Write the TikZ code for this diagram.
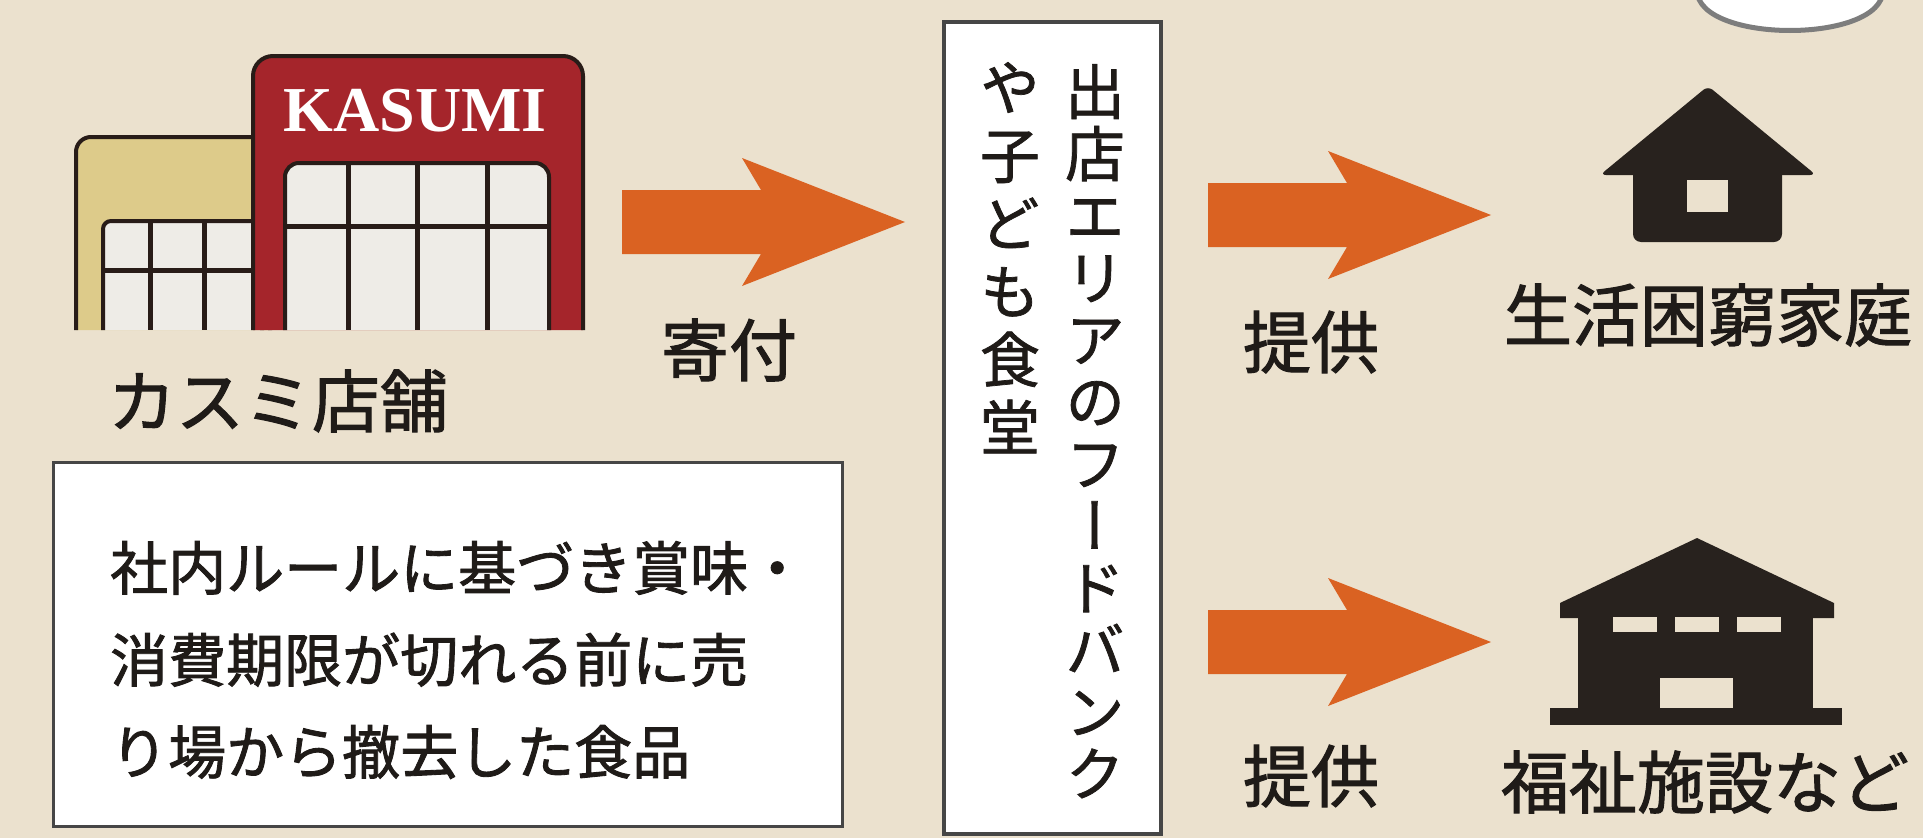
\documentclass[tikz,border=0pt]{standalone}
\usepackage{fontspec}
\usetikzlibrary{calc,positioning}
\newfontfamily\jpfont{Noto Sans CJK JP}[FakeBold=1.5]
\newfontfamily\tatefont{Noto Sans CJK JP}[RawFeature=+vert,FakeBold=1.2]
\newfontfamily\logofont{Liberation Serif}

\definecolor{paper}{RGB}{235,225,206}
\definecolor{inkblack}{RGB}{31,27,24}
\definecolor{outline}{RGB}{40,28,24}
\definecolor{kasumired}{RGB}{165,37,43}
\definecolor{tanwall}{RGB}{221,203,138}
\definecolor{glass}{RGB}{238,236,231}
\definecolor{arroworange}{RGB}{218,98,34}
\definecolor{houseblack}{RGB}{40,34,30}
\definecolor{boxgrey}{RGB}{70,70,70}
\definecolor{bubblegrey}{RGB}{125,125,125}

\tikzset{
  jplabel/.style={text=inkblack,inner sep=0,font=\jpfont\fontsize{68}{80}\selectfont},
  memo/.style={text=inkblack,inner sep=0,align=left,font=\jpfont\fontsize{58}{92}\selectfont},
  tate/.style={text=inkblack,inner sep=0,align=center,anchor=north,font=\tatefont\fontsize{60}{62}\selectfont},
  logo/.style={text=white,inner sep=0,font=\logofont\bfseries\fontsize{64}{70}\selectfont},
  wall/.style={draw=outline,line width=4},
  bar/.style={draw=outline,line width=5},
  pics/fatarrow/.style={code={
    \fill[arroworange] (0,-32) -- (139,-32) -- (120,-64) -- (283,0) -- (120,64) -- (139,32) -- (0,32) -- cycle;
  }}
}

\begin{document}
\begin{tikzpicture}[x=1pt,y=-1pt]
\useasboundingbox (0,0) rectangle (1923,838);
\fill[paper] (0,0) rectangle (1923,838);

\coordinate (A1) at (622,222);
\coordinate (A2) at (1208,215);
\coordinate (A3) at (1208,642);

% speech bubble cut by the top edge
\filldraw[fill=white,draw=bubblegrey,line width=5] (1697,-10) .. controls (1697,44) and (1883,44) .. (1883,-10) -- cycle;

% store: back building
\filldraw[wall,fill=tanwall,rounded corners=15] (76,330) -- (76,137) -- (270,137) -- (270,330);
\filldraw[wall,fill=glass,rounded corners=8] (103,330) -- (103,221) -- (262,221) -- (262,330);
\draw[bar] (103,270) -- (255,270);
\foreach \x in {150,204}
	\draw[bar] (\x,221) -- (\x,330);

% store: KASUMI building
\filldraw[wall,fill=kasumired,rounded corners=20] (253,330) -- (253,56) -- (583,56) -- (583,330);
\filldraw[wall,fill=glass,rounded corners=14] (285,330) -- (285,163) -- (549,163) -- (549,330);
\draw[bar] (285,226) -- (549,226);
\foreach \x in {348,417,487}
	\draw[bar] (\x,163) -- (\x,330);
\node[logo] (kasumi) at (415,111) {KASUMI};

\node[jplabel] (store) at (278,401) {カスミ店舗};

% note box
\filldraw[fill=white,draw=boxgrey,line width=3] (53,462) rectangle (842,826);
\node[memo,anchor=west] (rule) at (110,660) {社内ルールに基づき賞味・\\消費期限が切れる前に売\\り場から撤去した食品};

% food bank box, vertical text
\filldraw[fill=white,draw=boxgrey,line width=4] (944,22) rectangle (1161,834);
\node[tate] (bank) at (1095,64) {出\\店\\エ\\リ\\ア\\の\\フ\\ー\\ド\\バ\\ン\\ク};
\node[tate,font=\tatefont\fontsize{60}{68}\selectfont] (kids) at (1010,62) {や\\子\\ど\\も\\食\\堂};

% arrows
\pic at (A1) {fatarrow};
\pic at (A2) {fatarrow};
\pic at (A3) {fatarrow};
\node[jplabel] (donate) at (729,350) {寄付};
\node[jplabel] (give1) at (1311,342) {提供};
\node[jplabel] (give2) at (1311,776) {提供};

% household
\fill[houseblack,rounded corners=6] (1600,175) -- (1708,86) -- (1816,175) -- cycle;
\fill[houseblack,rounded corners=8] (1633,150) -- (1633,242) -- (1782,242) -- (1782,150) -- cycle;
\fill[paper] (1687,180) rectangle (1728,212);
\node[jplabel] (family) at (1708,315) {生活困窮家庭};

% welfare facility
\fill[houseblack] (1560,603) -- (1697,538) -- (1834,603) -- (1834,618) -- (1560,618) -- cycle;
\fill[houseblack] (1578,610) rectangle (1813,710);
\fill[houseblack] (1550,708) rectangle (1842,725);
\foreach \x in {1613,1675,1737}
	\fill[paper] (\x,617) rectangle ++(44,15);
\fill[paper] (1660,678) rectangle (1733,708);
\node[jplabel] (welfare) at (1705,782) {福祉施設など};
\end{tikzpicture}
\end{document}
